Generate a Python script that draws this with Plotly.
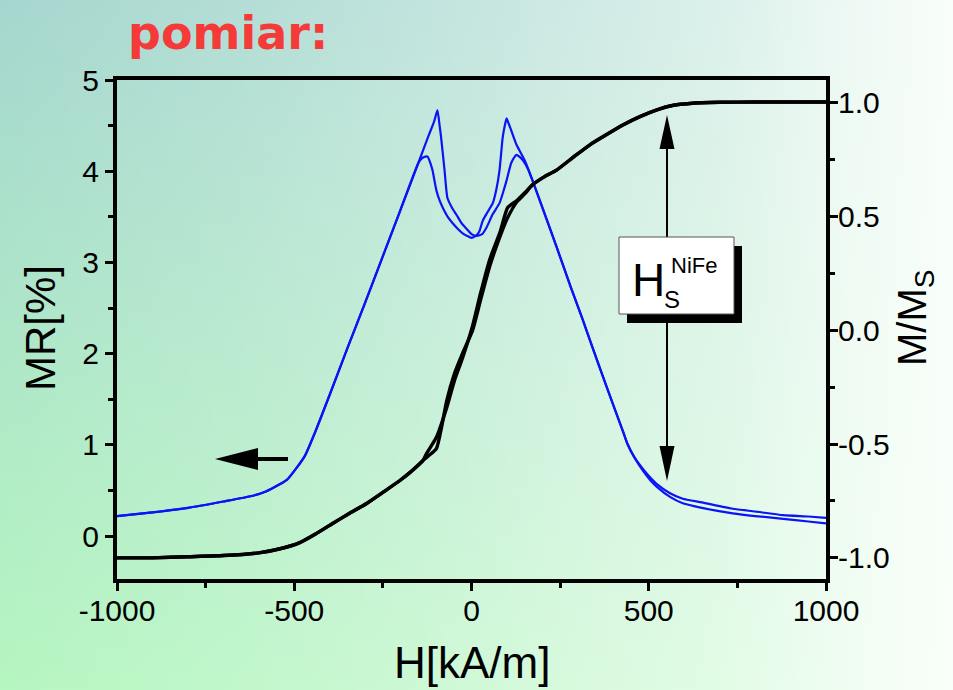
import base64
import plotly.graph_objects as go

# ---------------- data ----------------
# MR [%] (left axis) - two sweep branches
mr_a_H = [-1000, -900, -800, -700, -620, -580, -545, -520, -495, -470, -440, -400, -350, -300, -250, -200,
          -150, -120, -105, -96, -90, -86, -76, -68, -55, -42, -28, -14, 0, 15, 30, 42, 60, 79, 90, 99,
          112, 122, 127, 135, 145, 160, 172, 200, 240, 280, 314, 342, 380, 427, 440, 460, 483, 505, 523,
          560, 596, 650, 737, 800, 879, 950, 1000]
mr_a = [0.22, 0.26, 0.31, 0.38, 0.44, 0.49, 0.56, 0.62, 0.74, 0.88, 1.15, 1.55, 2.06, 2.56, 3.07, 3.58,
        4.09, 4.40, 4.55, 4.67, 4.50, 4.38, 4.01, 3.71, 3.60, 3.52, 3.43, 3.37, 3.31, 3.29, 3.31, 3.38, 3.53, 3.65, 3.78, 3.90,
        4.09, 4.16, 4.18, 4.16, 4.12, 4.02, 3.90, 3.60, 3.17, 2.73, 2.37, 2.06, 1.65, 1.15, 1.01, 0.86, 0.74, 0.64, 0.57,
        0.47, 0.41, 0.37, 0.30, 0.27, 0.23, 0.215, 0.20]

mr_b_H = [-1000, -900, -800, -700, -620, -580, -545, -520, -495, -470, -440, -400, -350, -300, -250, -200,
          -150, -140, -130, -124, -117, -110, -99, -90, -81, -67, -53, -39, -25, -12, 0, 12, 22, 32, 45, 60,
          70, 79, 88, 95, 99, 103, 110, 127, 150, 172, 200, 240, 280, 314, 342, 380, 427, 440, 460, 483,
          505, 523, 560, 596, 650, 737, 800, 879, 950, 1000]
mr_b = [0.22, 0.26, 0.31, 0.38, 0.44, 0.49, 0.56, 0.62, 0.74, 0.88, 1.15, 1.55, 2.06, 2.56, 3.07, 3.58,
        4.09, 4.14, 4.16, 4.16, 4.10, 4.01, 3.79, 3.68, 3.60, 3.50, 3.43, 3.37, 3.32, 3.29, 3.27, 3.29, 3.34, 3.46, 3.55, 3.65,
        3.80, 4.01, 4.37, 4.52, 4.58, 4.54, 4.47, 4.29, 4.12, 3.90, 3.60, 3.17, 2.73, 2.37, 2.06, 1.65, 1.15, 1.01, 0.86, 0.72,
        0.61, 0.54, 0.43, 0.36, 0.31, 0.25, 0.22, 0.19, 0.16, 0.14]

# M/Ms (right axis) - ascending and descending branches
m_a_H = [-1000, -900, -800, -700, -600, -540, -486, -440, -393, -345, -297, -250, -203, -170, -138, -120,
         -99, -85, -70, -48, -25, 3, 25, 51, 75, 100, 127, 150, 172, 205, 240, 290, 333, 380, 427, 475,
         523, 570, 616, 700, 800, 900, 1000]
m_a = [-1.00, -1.00, -0.995, -0.99, -0.978, -0.96, -0.934, -0.895, -0.85, -0.805, -0.762, -0.712, -0.661, -0.62, -0.573, -0.55,
       -0.52, -0.43, -0.31, -0.19, -0.10, 0.0, 0.13, 0.28, 0.39, 0.49, 0.564, 0.60, 0.64, 0.675, 0.705, 0.765, 0.815, 0.86, 0.903, 0.94,
       0.97, 0.99, 0.998, 1.003, 1.004, 1.004, 1.004]

m_b_H = [1000, 900, 800, 700, 616, 570, 523, 475, 427, 380, 333, 290, 240, 205, 172, 150, 127, 102, 80, 51,
         25, 3, -25, -48, -70, -99, -127, -138, -170, -203, -250, -297, -345, -393, -440, -486, -540, -600,
         -700, -800, -900, -1000]
m_b = [1.004, 1.004, 1.004, 1.003, 0.998, 0.99, 0.97, 0.94, 0.903, 0.86, 0.815, 0.765, 0.705, 0.675, 0.64, 0.605, 0.57, 0.54, 0.43, 0.31,
       0.16, 0.02, -0.12, -0.22, -0.34, -0.47, -0.542, -0.575, -0.62, -0.661, -0.712, -0.762, -0.805, -0.85, -0.895, -0.934, -0.96, -0.978,
       -0.99, -0.995, -1.00, -1.00]

x_tickvals = [-1000, -500, 0, 500, 1000]
x_ticktext = ["-1000", "-500", "0", "500", "1000"]
y_tickvals = [0, 1, 2, 3, 4, 5]
y_ticktext = ["0", "1", "2", "3", "4", "5"]
y2_tickvals = [-1.0, -0.5, 0.0, 0.5, 1.0]
y2_ticktext = ["-1.0", "-0.5", "0.0", "0.5", "1.0"]

# ---------------- layout geometry ----------------
W, H = 953, 690
L, R, T, B = 117, 127, 80, 111
PW, PH = W - L - R, H - T - B


def px(x):
    return (x - L) / PW


def py(y):
    return (H - B - y) / PH


FONT = "Liberation Sans, Arial, sans-serif"

# background gradient as SVG image
svg = f"""<svg xmlns='http://www.w3.org/2000/svg' width='{W}' height='{H}' viewBox='0 0 {W} {H}' preserveAspectRatio='none'>
<defs>
<linearGradient id='v' x1='0' y1='0' x2='0' y2='1'>
<stop offset='0' stop-color='#a6d7cf'/><stop offset='1' stop-color='#b6f6c1'/></linearGradient>
<linearGradient id='h' x1='0' y1='0' x2='1' y2='0'>
<stop offset='0' stop-color='#ffffff' stop-opacity='0'/>
<stop offset='0.25' stop-color='#ffffff' stop-opacity='0.15'/>
<stop offset='0.5' stop-color='#ffffff' stop-opacity='0.36'/>
<stop offset='0.75' stop-color='#fbfffb' stop-opacity='0.62'/>
<stop offset='0.9' stop-color='#fbfffb' stop-opacity='0.86'/>
<stop offset='1' stop-color='#fbfffb' stop-opacity='0.97'/></linearGradient>
</defs>
<rect width='{W}' height='{H}' fill='url(#v)'/>
<rect width='{W}' height='{H}' fill='url(#h)'/>
</svg>"""
svg_uri = "data:image/svg+xml;base64," + base64.b64encode(svg.encode()).decode()

fig = go.Figure()

BLUE = "#0a14f5"
blue_line = dict(color=BLUE, width=2.2, shape="spline", smoothing=0.5)
black_line = dict(color="black", width=3.4, shape="spline", smoothing=0.5)
fig.add_trace(go.Scatter(x=mr_a_H, y=mr_a, mode="lines", line=blue_line, yaxis="y", showlegend=False))
fig.add_trace(go.Scatter(x=mr_b_H, y=mr_b, mode="lines", line=blue_line, yaxis="y", showlegend=False))
fig.add_trace(go.Scatter(x=m_a_H, y=m_a, mode="lines", line=black_line, yaxis="y2", showlegend=False))
fig.add_trace(go.Scatter(x=m_b_H, y=m_b, mode="lines", line=black_line, yaxis="y2", showlegend=False))

tickfont = dict(family=FONT, size=30, color="black")
axcommon = dict(showline=True, linecolor="black", linewidth=4, ticks="outside", ticklen=8, tickwidth=3,
                tickcolor="black", showgrid=False, zeroline=False, tickfont=tickfont)

fig.update_layout(
    width=W, height=H,
    margin=dict(l=L, r=R, t=T, b=B, pad=0),
    paper_bgcolor="white",
    plot_bgcolor="rgba(0,0,0,0)",
    xaxis=dict(range=[-1000, 1000], tickmode="array", tickvals=x_tickvals, ticktext=x_ticktext, mirror=True,
               ticklabelstandoff=-6,
               minor=dict(tickmode="linear", tick0=0, dtick=250, ticks="outside", ticklen=5, tickwidth=3, tickcolor="black"),
               **axcommon),
    yaxis=dict(range=[-0.47, 5], tickmode="array", tickvals=y_tickvals, ticktext=y_ticktext,
               minor=dict(tickmode="linear", tick0=0, dtick=0.5, ticks="outside", ticklen=5, tickwidth=3, tickcolor="black"),
               **axcommon),
    yaxis2=dict(range=[-1.093, 1.101], overlaying="y", side="right", tickmode="array", tickvals=y2_tickvals,
                ticktext=y2_ticktext, ticklabelstandoff=-6,
                minor=dict(tickmode="linear", tick0=0, dtick=0.25, ticks="outside", ticklen=5, tickwidth=3, tickcolor="black"),
                **axcommon),
    images=[dict(source=svg_uri, xref="paper", yref="paper", x=px(0), y=py(0), sizex=W / PW, sizey=H / PH,
                 xanchor="left", yanchor="top", sizing="stretch", layer="below")],
)

shapes = []
# vertical double arrow (H_S^NiFe)
ax_x = 667
shapes.append(dict(type="line", xref="paper", yref="paper", x0=px(ax_x), x1=px(ax_x), y0=py(146), y1=py(449),
                   line=dict(color="black", width=2)))
shapes.append(dict(type="path", xref="paper", yref="paper",
                   path=f"M {px(ax_x)} {py(115)} L {px(ax_x - 7.5)} {py(149)} L {px(ax_x + 7.5)} {py(149)} Z",
                   fillcolor="black", line=dict(color="black", width=0)))
shapes.append(dict(type="path", xref="paper", yref="paper",
                   path=f"M {px(ax_x)} {py(481)} L {px(ax_x - 7.5)} {py(446)} L {px(ax_x + 7.5)} {py(446)} Z",
                   fillcolor="black", line=dict(color="black", width=0)))
# label box with shadow
shapes.append(dict(type="rect", xref="paper", yref="paper", x0=px(627), x1=px(742), y0=py(246), y1=py(323),
                   fillcolor="black", line=dict(color="black", width=0)))
shapes.append(dict(type="rect", xref="paper", yref="paper", x0=px(619), x1=px(734), y0=py(237), y1=py(314),
                   fillcolor="white", line=dict(color="#555555", width=1)))
# left pointing arrow
shapes.append(dict(type="line", xref="paper", yref="paper", x0=px(255), x1=px(288), y0=py(459), y1=py(459),
                   line=dict(color="black", width=4)))
shapes.append(dict(type="path", xref="paper", yref="paper",
                   path=f"M {px(215)} {py(459)} L {px(258)} {py(448)} L {px(258)} {py(470)} Z",
                   fillcolor="black", line=dict(color="black", width=0)))
fig.update_layout(shapes=shapes)


def ann(text, x, y, size, family=FONT, color="black", angle=0, weight="normal", xanchor="center"):
    return dict(text=text, xref="paper", yref="paper", x=px(x), y=py(y), xanchor=xanchor, yanchor="middle",
                showarrow=False, textangle=angle,
                font=dict(family=family, size=size, color=color, weight=weight))


annotations = [
    ann("pomiar:", 126, 33, 46, family="DejaVu Sans, Verdana, sans-serif", color="#f53a3a", weight="bold",
        xanchor="left"),
    ann("MR[%]", 40, 328, 42, angle=-90),
    ann("M/M<sub>S</sub>", 915, 318, 40, angle=-90),
    ann("H[kA/m]", 472, 662, 44),
    ann("H", 648, 280, 46),
    ann("NiFe", 694, 265, 22),
    ann("S", 672, 299, 24),
]
fig.update_layout(annotations=annotations)

fig.write_html("out.html", config={"displayModeBar": False},
               post_script="document.body.style.margin='0';document.body.style.overflow='hidden';")
